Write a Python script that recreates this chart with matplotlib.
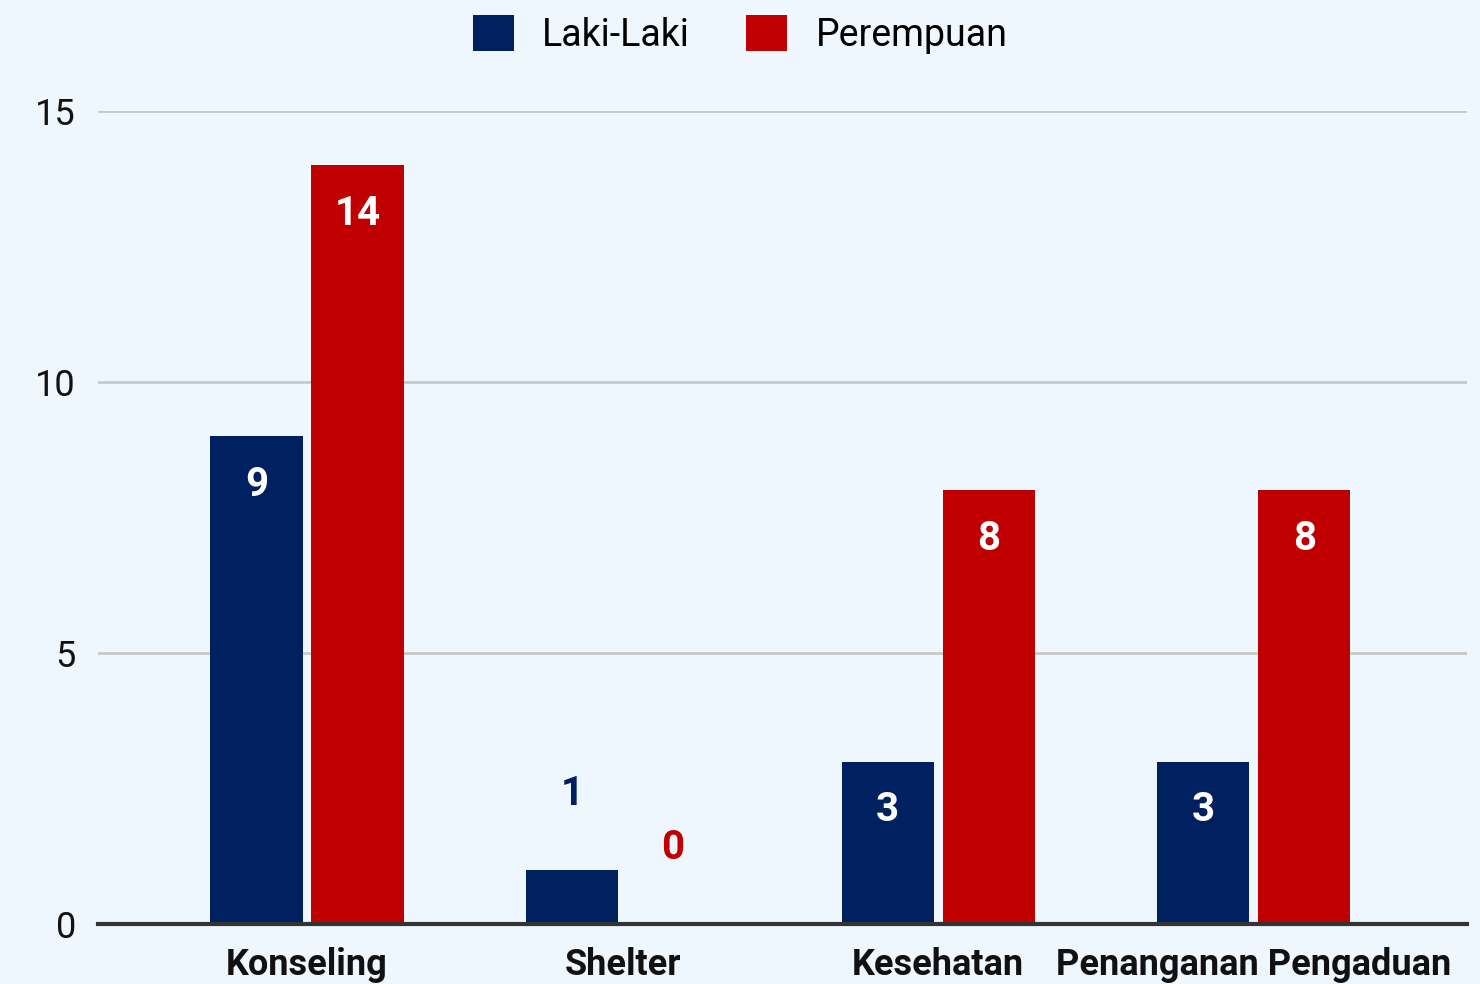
import matplotlib.pyplot as plt
import numpy as np

kategori = ['Konseling', 'Shelter', 'Kesehatan', 'Penanganan Pengaduan']
laki = [9, 1, 3, 3]
perempuan = [14, 0, 8, 8]
warna_laki = '#002060'
warna_perempuan = '#C00000'
bg = '#EEF6FE'

plt.rcParams['font.family'] = ['Roboto', 'DejaVu Sans']

fig = plt.figure(figsize=(14.8, 9.84), dpi=100, facecolor=bg)
ax = fig.add_axes([0.0662, 0.0605, 0.925, 0.827], facecolor=bg)

x = np.arange(len(kategori))
w = 0.292
off = 0.16
b1 = ax.bar(x - off, laki, w, color=warna_laki, label='Laki-Laki', zorder=3)
b2 = ax.bar(x + off, perempuan, w, color=warna_perempuan, label='Perempuan', zorder=3)

# label nilai: di dalam batang kalau cukup tinggi, di atas kalau tidak
for bars, vals, col in [(b1, laki, warna_laki), (b2, perempuan, warna_perempuan)]:
    for bar, v in zip(bars, vals):
        cx = bar.get_x() + bar.get_width() / 2
        if v >= 2:
            ax.annotate(str(v), (cx, v), xytext=(0, -35), textcoords='offset points',
                        ha='center', va='center', color='white', fontsize=29,
                        fontweight='bold', zorder=4)
        else:
            ax.annotate(str(v), (cx, v), xytext=(0, 55), textcoords='offset points',
                        ha='center', va='center', color=col, fontsize=29,
                        fontweight='bold', zorder=4)

ax.set_xlim(-0.662, 3.675)
ax.set_ylim(0, 15)
ax.set_yticks([0, 5, 10, 15])
ax.set_xticks(x)
ax.set_xticklabels(kategori, fontsize=26, fontweight='bold', color='#111111')
ax.tick_params(axis='y', length=0, pad=16, labelsize=26, labelcolor='#111111')
ax.tick_params(axis='x', length=0, pad=16)
ax.grid(axis='y', color='#C8C8C8', linewidth=2, zorder=0)
for s in ['top', 'right', 'left']:
    ax.spines[s].set_visible(False)
ax.spines['bottom'].set_color('#333333')
ax.spines['bottom'].set_linewidth(3)
ax.spines['bottom'].set_zorder(5)

fig.legend(loc='center', bbox_to_anchor=(0.5, 0.965), ncol=2, frameon=False,
           fontsize=27, handlelength=1.1, handleheight=1.1, handletextpad=0.75,
           columnspacing=1.5)

fig.savefig('out.png', dpi=100, facecolor=bg)
